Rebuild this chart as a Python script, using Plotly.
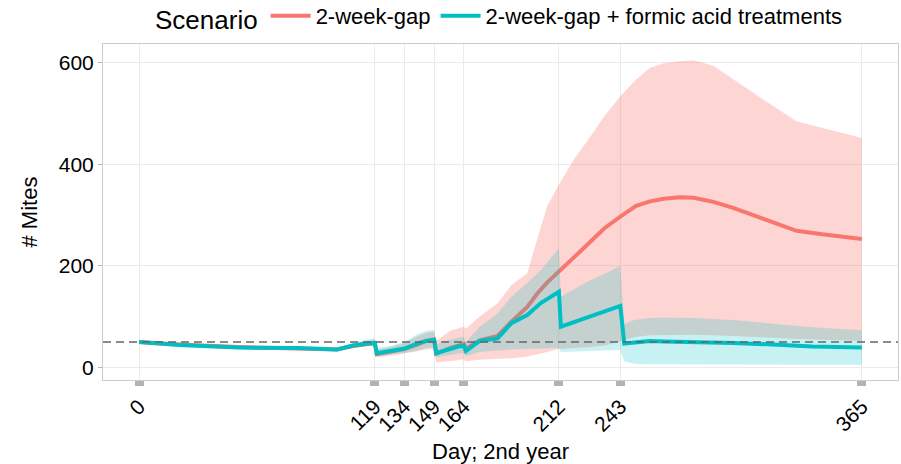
import plotly.graph_objects as go

# ---- data ----
tick_days = [0, 119, 134, 149, 164, 212, 243, 365]
y_ticks = [0, 200, 400, 600]
threshold = 50

days_gap = [0, 20, 50, 80, 100, 108, 115, 119, 120, 127, 134, 140, 145, 149, 150, 157, 164, 165,
            172, 181, 188, 196, 201, 206, 212, 220, 228, 235, 243, 251, 258, 265, 273, 280, 290,
            300, 315, 332, 345, 355, 365]
gap_mean = [50, 45, 40, 38, 35, 42, 47, 48, 26, 30, 36, 44, 52, 55, 27, 38, 46, 36,
            53, 62, 90, 119, 145, 167, 190, 218, 248, 274, 297, 318, 327, 332, 335, 334, 326,
            314, 293, 269, 262, 258, 253]
gap_lo = [49, 43, 37, 35, 33, 38, 42, 43, 20, 23, 27, 31, 35, 36, 10, 12, 16, 12,
          15, 17, 18, 21, 25, 30, 36, 38, 40, 43, 52, 60, 63, 64, 64, 64, 63,
          62, 59, 56, 54, 53, 52]
gap_hi = [51, 47, 42, 40, 38, 47, 53, 55, 35, 40, 48, 60, 68, 70, 52, 72, 80, 76,
          100, 126, 162, 185, 252, 317, 360, 412, 455, 495, 534, 567, 590, 599, 603, 605, 594,
          567, 528, 485, 472, 462, 452]

days_fa = [0, 20, 50, 80, 100, 108, 115, 119, 120, 127, 134, 140, 145, 149, 150, 157, 161, 164,
           165, 172, 181, 188, 196, 203, 212, 213, 220, 228, 236, 243, 245, 250, 258, 265, 280,
           300, 320, 340, 365]
fa_mean = [50, 44, 39, 38, 35, 43, 47, 48, 28, 32, 37, 46, 52, 54, 28, 36, 41, 42,
           32, 52, 57, 87, 103, 127, 149, 80, 90, 100, 111, 121, 47, 49, 52, 51, 50,
           48, 45, 41, 39]
fa_lo = [49, 42, 37, 35, 33, 38, 42, 44, 22, 25, 28, 33, 38, 40, 20, 24, 27, 28,
         22, 30, 33, 35, 36, 37, 38, 30, 31, 32, 33, 34, 12, 7, 6, 5, 5,
         5, 5, 5, 5]
fa_hi = [51, 46, 41, 40, 38, 48, 55, 57, 38, 42, 50, 64, 72, 74, 45, 55, 58, 60,
         50, 80, 106, 139, 166, 192, 235, 139, 155, 172, 186, 200, 85, 93, 97, 98, 97,
         93, 86, 79, 73]

RED = "#F8766D"
TEAL = "#00BFC4"

fig = go.Figure()

def ribbon(x, lo, hi, color):
    return go.Scatter(
        x=list(x) + list(x)[::-1],
        y=list(hi) + list(lo)[::-1],
        fill="toself", fillcolor=color, mode="lines",
        line=dict(width=0), hoverinfo="skip", showlegend=False)

fig.add_trace(ribbon(days_gap, gap_lo, gap_hi, "rgba(248,118,109,0.3)"))
fig.add_trace(go.Scatter(x=days_gap, y=gap_mean, mode="lines", name="2-week-gap",
                         line=dict(color=RED, width=4)))
fig.add_trace(ribbon(days_fa, fa_lo, fa_hi, "rgba(0,191,196,0.22)"))
fig.add_trace(go.Scatter(x=days_fa, y=fa_mean, mode="lines",
                         name="2-week-gap + formic acid treatments",
                         line=dict(color=TEAL, width=4)))

fig.add_shape(type="line", xref="paper", yref="y", x0=0, x1=1, y0=threshold, y1=threshold,
              line=dict(color="#666666", width=1.5, dash="8px,5px"))

fig.update_layout(
    width=901, height=464,
    margin=dict(l=103, r=3, t=44, b=84, autoexpand=False),
    plot_bgcolor="white", paper_bgcolor="white",
    font=dict(family="Liberation Sans, Arial, sans-serif", size=22, color="black"),
    legend=dict(orientation="h", x=0.5, xanchor="center", y=1.015, yanchor="bottom",
                title=dict(text="Scenario", side="left"), font=dict(size=22),
                itemwidth=40, bgcolor="rgba(0,0,0,0)"),
)
fig.update_xaxes(
    range=[-18.25, 383.25], tickmode="array", tickvals=tick_days,
    ticktext=[str(d) for d in tick_days], tickangle=-45, automargin=False,
    tickfont=dict(size=21), showgrid=True, gridcolor="#ebebeb", gridwidth=1,
    zeroline=False, showline=True, linecolor="#cccccc", linewidth=1, mirror=True,
    ticks="outside", ticklen=5, tickwidth=9, tickcolor="#b3b3b3",
    title=dict(text="Day; 2nd year", font=dict(size=22), standoff=12),
)
fig.update_yaxes(
    range=[-25, 637], tickmode="array", tickvals=y_ticks, automargin=False,
    tickfont=dict(size=21), showgrid=True, gridcolor="#ebebeb", gridwidth=1,
    zeroline=False, showline=True, linecolor="#cccccc", linewidth=1, mirror=True,
    ticks="outside", ticklen=4, tickwidth=1, tickcolor="#b3b3b3",
    title=dict(text="# Mites", font=dict(size=22)),
)

fig.write_html("out.html", config={"displayModeBar": False},
               post_script="document.body.style.margin='0';")
